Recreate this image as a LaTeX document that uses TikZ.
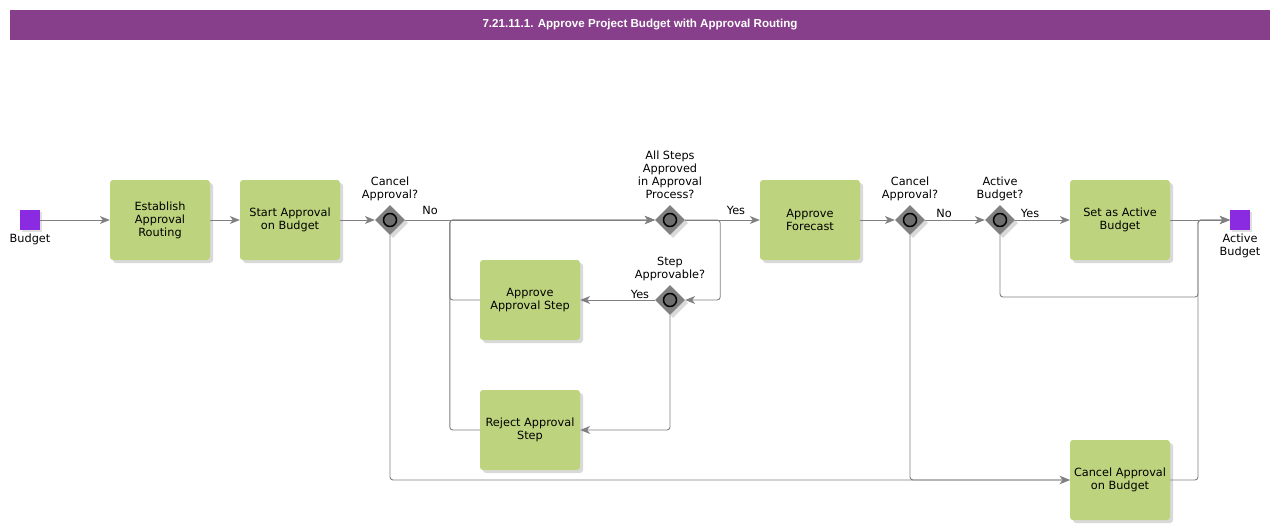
\documentclass[tikz,border=0pt]{standalone}
\usepackage{fontspec}
\setmainfont{DejaVu Sans}
\newfontfamily\titlefont{Liberation Sans}
\usepackage{tikz}
\usetikzlibrary{arrows.meta,positioning,shapes.geometric,shadows,calc}

\definecolor{barpurple}{RGB}{135,63,139}
\definecolor{taskgreen}{RGB}{189,211,125}
\definecolor{evpurple}{RGB}{138,43,226}
\definecolor{linegray}{RGB}{128,128,128}
\definecolor{gwgray}{RGB}{128,128,128}

\begin{document}
\begin{tikzpicture}[x=1pt, y=-1pt,
    font=\fontsize{11.3}{13}\selectfont,
    task/.style={draw=none, fill=taskgreen, rounded corners=3pt, minimum width=100pt,
        minimum height=80pt, align=center, inner sep=1pt,
        drop shadow={shadow xshift=3pt, shadow yshift=-3pt, opacity=0.3}},
    gate/.style={diamond, fill=gwgray, minimum width=30pt, minimum height=30pt, inner sep=0pt,
        drop shadow={shadow xshift=3pt, shadow yshift=-3pt, opacity=0.3},
        label distance=1pt},
    glabel/.style={align=center, text depth=3pt},
    event/.style={rectangle, fill=evpurple, minimum size=20pt, inner sep=0pt,
        drop shadow={shadow xshift=1.5pt, shadow yshift=-1.5pt, opacity=0.25},
        label distance=4pt},
    flow/.style={draw=linegray, line width=0.9pt, rounded corners=3pt,
        -{Stealth[length=10pt,width=8pt,inset=3pt]}},
    lbl/.style={inner sep=0pt}]
\useasboundingbox (0,0) rectangle (1280,530);

% Title bar
\fill[barpurple] (10,10) rectangle (1270,40);
\node[text=white, font=\titlefont\bfseries\fontsize{11.6}{13}\selectfont] (title) at (640,25)
    {7.21.11.1. Approve Project Budget with Approval Routing};

% Events
\node[event, label={[align=center]below:Budget}] (bud) at (30,220) {};
\node[event, label={[align=center]below:Active\\Budget}] (fin) at (1240,220) {};

% Tasks
\node[task] (est) at (160,220) {Establish\\Approval\\Routing};
\node[task] (sab) at (290,220) {Start Approval\\on Budget};
\node[task] (aas) at (530,300) {Approve\\Approval Step};
\node[task] (ras) at (530,430) {Reject Approval\\Step};
\node[task] (af) at (810,220) {Approve\\Forecast};
\node[task] (saab) at (1120,220) {Set as Active\\Budget};
\node[task] (cab) at (1120,480) {Cancel Approval\\on Budget};

% Gateways
\node[gate, label={[glabel]above:Cancel\\Approval?}] (g1) at (390,220) {};
\node[gate, label={[glabel]above:All Steps\\Approved\\in Approval\\Process?}] (g2) at (670,220) {};
\node[gate, label={[glabel]above:Step\\Approvable?}] (gs) at (670,300) {};
\node[gate, label={[glabel]above:Cancel\\Approval?}] (g3) at (910,220) {};
\node[gate, label={[glabel]above:Active\\Budget?}] (g4) at (1000,220) {};
\foreach \g in {g1,g2,gs,g3,g4} {
    \draw[line width=1.5pt, fill=gwgray!85!black] (\g) circle (6.5pt);
}

% Flows
\coordinate (join) at (1198,220);
\draw[flow] (bud) -- (est);
\draw[flow] (est) -- (sab);
\draw[flow] (sab) -- (g1);
\draw[flow] (g1) -- (g2);
\draw[flow] (g2) -- (af);
\draw[flow] (g2.east) -- ++(35,0) |- (gs.east);
\draw[flow] (gs) -- (aas);
\draw[flow] (gs) |- (ras);
\draw[flow] (aas.west) -- ++(-30,0) |- (g2.west);
\draw[flow] (ras.west) -- ++(-30,0) |- (g2.west);
\draw[flow] (g1) |- (cab);
\draw[flow] (af) -- (g3);
\draw[flow] (g3) -- (g4);
\draw[flow] (g3) |- (cab);
\draw[flow] (g4) -- (saab);
\draw[flow] (g4) |- ($(join)+(0,77)$) -- (join) -- (fin);
\draw[flow] (saab) -- (fin);
\draw[flow] (cab) -| (join) -- (fin);

% Flow labels
\node[lbl] (no1) at (430,210) {No};
\node[lbl] (yes1) at (736,210) {Yes};
\node[lbl] (yes2) at (640,294) {Yes};
\node[lbl] (no2) at (944,213) {No};
\node[lbl] (yes3) at (1030,213) {Yes};
\end{tikzpicture}
\end{document}
